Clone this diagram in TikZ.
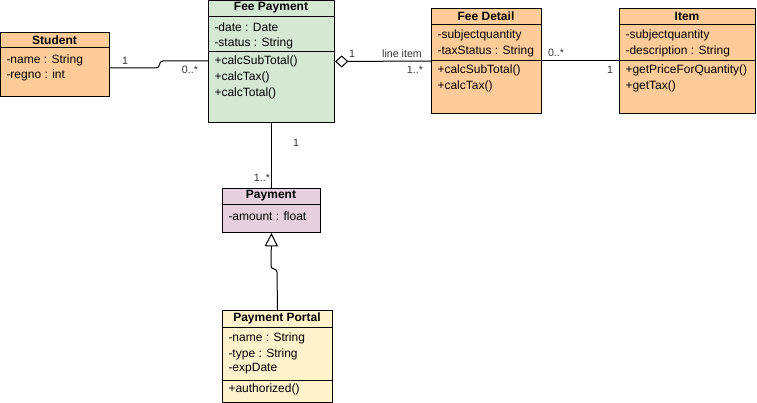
\documentclass[tikz,border=0pt]{standalone}
\usepackage{fontspec}
\setmainfont{Liberation Sans}
\usetikzlibrary{arrows.meta}
\definecolor{orangefill}{HTML}{FFCC99}
\definecolor{greenfill}{HTML}{D5E8D4}
\definecolor{pinkfill}{HTML}{E6D0DE}
\definecolor{yellowfill}{HTML}{FFF2CC}
\definecolor{multgray}{HTML}{333333}
\begin{document}
\begin{tikzpicture}[x=0.75pt,y=-0.75pt,line width=0.75pt,
  classbox/.style={draw, rectangle, anchor=north west, inner sep=0pt},
  title/.style={font=\fontsize{9}{11}\selectfont\bfseries},
  member/.style={anchor=west, inner sep=0pt, font=\fontsize{9}{11}\selectfont},
  mult/.style={inner sep=1pt, font=\fontsize{8}{10}\selectfont, text=multgray}]
\useasboundingbox (0,0) rectangle (757,403);

% Student
\node[classbox, fill=orangefill, minimum width=81.75pt, minimum height=48pt] (student) at (0,32) {};
\node[title] (studenttitle) at (54.5,40) {Student};
\draw (student.west |- 0,48) -- (student.east |- 0,48);
\node[member] (studentname) at (6,60) {-name : String};
\node[member] (studentregno) at (6,75) {-regno : int};

% Fee Payment
\node[classbox, fill=greenfill, minimum width=94.5pt, minimum height=91.5pt] (feepay) at (208,0) {};
\node[title] (feepaytitle) at (271,8) {Fee Payment};
\draw (feepay.west |- 0,17) -- (feepay.east |- 0,17);
\node[member] (feepaydate) at (214,27) {-date : Date};
\node[member] (feepaystatus) at (214,43) {-status : String};
\draw (feepay.west |- 0,52) -- (feepay.east |- 0,52);
\node[member] (feepaysub) at (214,61) {+calcSubTotal()};
\node[member] (feepaytax) at (214,77) {+calcTax()};
\node[member] (feepaytotal) at (214,93) {+calcTotal()};

% Fee Detail
\node[classbox, fill=orangefill, minimum width=82.5pt, minimum height=78.75pt] (feedetail) at (431,8) {};
\node[title] (feedetailtitle) at (486,16) {Fee Detail};
\draw (feedetail.west |- 0,25) -- (feedetail.east |- 0,25);
\node[member] (feedetailqty) at (437,35) {-subjectquantity};
\node[member] (feedetailstatus) at (437,51) {-taxStatus : String};
\draw (feedetail.west |- 0,61) -- (feedetail.east |- 0,61);
\node[member] (feedetailsub) at (437,70) {+calcSubTotal()};
\node[member] (feedetailtax) at (437,86) {+calcTax()};

% Item
\node[classbox, fill=orangefill, minimum width=102pt, minimum height=78.75pt] (item) at (619,8) {};
\node[title] (itemtitle) at (687,16) {Item};
\draw (item.west |- 0,25) -- (item.east |- 0,25);
\node[member] (itemqty) at (625,35) {-subjectquantity};
\node[member] (itemdesc) at (625,51) {-description : String};
\draw (item.west |- 0,61) -- (item.east |- 0,61);
\node[member] (itemprice) at (625,70) {+getPriceForQuantity()};
\node[member] (itemtax) at (625,86) {+getTax()};

% Payment
\node[classbox, fill=pinkfill, minimum width=73.5pt, minimum height=33pt] (payment) at (222,188) {};
\node[title] (paymenttitle) at (271,196) {Payment};
\draw (payment.west |- 0,204) -- (payment.east |- 0,204);
\node[member] (paymentamount) at (228,216) {-amount : float};

% Payment Portal
\node[classbox, fill=yellowfill, minimum width=82.5pt, minimum height=69pt] (portal) at (222,310) {};
\node[title] (portaltitle) at (277,318) {Payment Portal};
\draw (portal.west |- 0,327) -- (portal.east |- 0,327);
\node[member] (portalname) at (228,338) {-name : String};
\node[member] (portaltype) at (228,354) {-type : String};
\node[member] (portalexp) at (228,369) {-expDate};
\draw (portal.west |- 0,380) -- (portal.east |- 0,380);
\node[member] (portalauth) at (228,389) {+authorized()};

% associations
\draw (student.east |- 0,68) -- (156,68) .. controls (161,68) and (158,61) .. (163,61) -- (feepay.west |- 0,61);
\node[mult] (m1) at (125,61) {1};
\node[mult] (m2) at (190,70) {0..*};

\draw[{Diamond[open,length=10pt,width=9pt]}-] (feepay.east) -- (feedetail.west);
\node[mult] (m3) at (352,54) {1};
\node[mult] (m4) at (402,54) {line item};
\node[mult] (m5) at (415,70) {1..*};

\draw (feedetail.east) -- (item.west);
\node[mult] (m6) at (556,53) {0..*};
\node[mult] (m7) at (610,70) {1};

\draw (feepay.south) -- (payment.north);
\node[mult] (m8) at (296,143) {1};
\node[mult] (m9) at (262,178) {1..*};

% generalization
\draw[-{Triangle[open,length=10pt,width=10pt]}] (portal.north) -- (277,272) .. controls (277,268) and (271,270) .. (271,266) -- (payment.south);
\end{tikzpicture}
\end{document}
